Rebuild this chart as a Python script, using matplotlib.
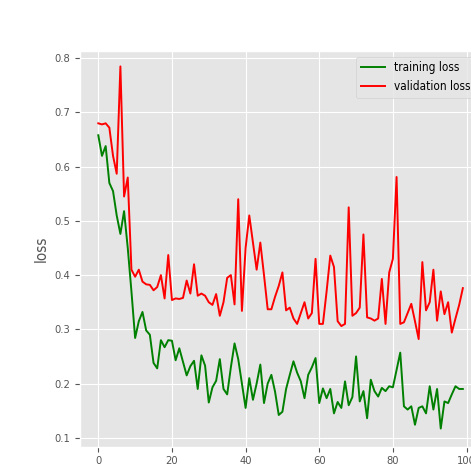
import matplotlib
matplotlib.use("Agg")
import matplotlib.pyplot as plt
import numpy as np

plt.style.use("ggplot")

epochs = list(range(100))

training_loss = [
    0.658, 0.620, 0.638, 0.570, 0.555, 0.510, 0.476, 0.518, 0.450, 0.370,
    0.284, 0.315, 0.332, 0.298, 0.290, 0.238, 0.228, 0.280, 0.267, 0.280,
    0.279, 0.243, 0.265, 0.240, 0.215, 0.232, 0.242, 0.190, 0.252, 0.233,
    0.165, 0.193, 0.205, 0.245, 0.190, 0.180, 0.230, 0.274, 0.245, 0.200,
    0.155, 0.210, 0.170, 0.200, 0.235, 0.164, 0.200, 0.216, 0.185, 0.142,
    0.148, 0.190, 0.216, 0.241, 0.220, 0.204, 0.173, 0.216, 0.230, 0.247,
    0.164, 0.191, 0.173, 0.190, 0.145, 0.166, 0.155, 0.204, 0.160, 0.175,
    0.250, 0.167, 0.186, 0.136, 0.207, 0.186, 0.176, 0.192, 0.186, 0.195,
    0.193, 0.225, 0.257, 0.158, 0.152, 0.158, 0.124, 0.155, 0.158, 0.145,
    0.195, 0.152, 0.190, 0.117, 0.167, 0.164, 0.180, 0.195, 0.190, 0.190,
]

validation_loss = [
    0.680, 0.678, 0.680, 0.672, 0.620, 0.587, 0.785, 0.545, 0.580, 0.410,
    0.397, 0.410, 0.388, 0.383, 0.382, 0.372, 0.378, 0.400, 0.357, 0.437,
    0.354, 0.357, 0.356, 0.358, 0.390, 0.366, 0.420, 0.362, 0.366, 0.362,
    0.350, 0.345, 0.365, 0.325, 0.350, 0.395, 0.400, 0.346, 0.540, 0.334,
    0.450, 0.510, 0.460, 0.410, 0.460, 0.400, 0.337, 0.337, 0.360, 0.380,
    0.405, 0.335, 0.340, 0.320, 0.310, 0.330, 0.350, 0.320, 0.330, 0.430,
    0.310, 0.310, 0.370, 0.436, 0.415, 0.315, 0.306, 0.310, 0.525, 0.325,
    0.330, 0.340, 0.475, 0.322, 0.320, 0.316, 0.320, 0.393, 0.310, 0.405,
    0.430, 0.581, 0.310, 0.313, 0.330, 0.347, 0.315, 0.282, 0.424, 0.335,
    0.350, 0.410, 0.316, 0.370, 0.328, 0.350, 0.294, 0.320, 0.345, 0.376,
]

x_ticks = [0, 20, 40, 60, 80, 100]
y_ticks = [0.1, 0.2, 0.3, 0.4, 0.5, 0.6, 0.7, 0.8]

plt.rcParams["font.stretch"] = "condensed"

fig = plt.figure(figsize=(4.71, 4.71), dpi=100)
fig.patch.set_facecolor("white")
ax = fig.add_axes([0.170, 0.0516, 0.8514, 0.8408])

ax.plot(epochs, training_loss, color="green", lw=1.4, label="training loss")
ax.plot(epochs, validation_loss, color="red", lw=1.4, label="validation loss")

ax.set_xlim(-4.95, 103.95)
ax.set_ylim(0.0835, 0.814)
ax.set_xticks(x_ticks)
ax.set_yticks(y_ticks)
ax.set_yticklabels([f"{v:.1f}" for v in y_ticks])
ax.tick_params(labelsize=8, colors="#555555")
ax.set_ylabel("loss", fontsize=11, color="#555555")

ax.legend(loc="upper right", fontsize=8.5)

fig.savefig("out.png", dpi=100)
